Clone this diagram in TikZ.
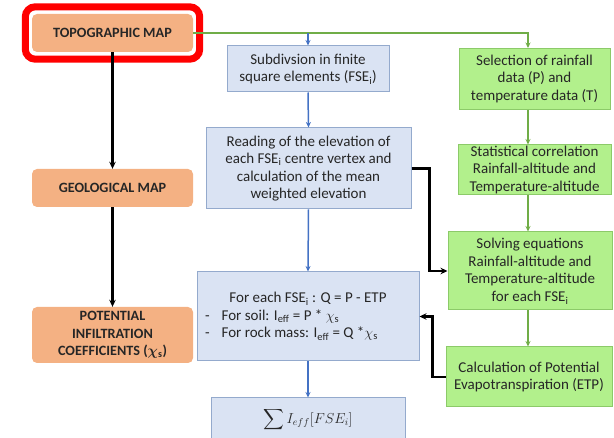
\documentclass[tikz,border=0pt]{standalone}
\usepackage{amsmath}
\usepackage{fontspec}
\setmainfont{Carlito}
\definecolor{orangebox}{RGB}{244,177,131}
\definecolor{bleufond}{RGB}{218,227,243}
\definecolor{bleubord}{RGB}{148,170,205}
\definecolor{bleufleche}{RGB}{68,114,196}
\definecolor{vertfond}{RGB}{178,240,140}
\definecolor{vertbord}{RGB}{140,202,105}
\definecolor{vertligne}{RGB}{112,173,71}
\definecolor{texte}{RGB}{38,38,38}
\usetikzlibrary{arrows.meta,positioning}

\begin{document}
\begin{tikzpicture}[x=1pt,y=-1pt,
    carte/.style={fill=orangebox,rounded corners=5pt,minimum width=161pt,inner sep=0pt,
      align=center,text=texte,font=\bfseries\boldmath\fontsize{14.2}{17.5}\selectfont},
    bloc/.style={draw=bleubord,fill=bleufond,line width=1pt,inner sep=0pt,
      align=center,text=texte,font=\fontsize{15}{17.5}\selectfont},
    boite/.style={draw=vertbord,fill=vertfond,line width=1pt,inner sep=0pt,
      align=center,text=texte,font=\fontsize{15}{17.8}\selectfont},
    fleche/.style={-{Stealth[length=7pt,width=6.5pt]},line width=2.2pt,black},
    flbleu/.style={-{Stealth[length=5.5pt,width=5pt]},line width=1.5pt,bleufleche},
    flvert/.style={-{Stealth[length=5.5pt,width=5pt]},line width=1.5pt,vertligne}]
  \useasboundingbox (0,0) rectangle (614,438);
  \clip (0,0) rectangle (614,438);

  % left column
  \node[carte,minimum height=38pt] (topo) at (112.5,33) {TOPOGRAPHIC MAP};
  \node[carte,minimum height=38pt] (geo) at (112.5,188) {GEOLOGICAL MAP};
  \node[carte,minimum height=56pt] (coef) at (112.5,335)
    {POTENTIAL\\INFILTRATION\\COEFFICIENTS ($\chi_{\mathrm{s}}$)};
  \draw[red,line width=7pt,rounded corners=10pt]
    ([shift={(-6.5,-7)}]topo.north west) rectangle ([shift={(6.5,7)}]topo.south east);

  % middle column
  \node[bloc,minimum width=162pt,minimum height=46pt] (sub) at (308,69)
    {Subdivsion in finite\\square elements (FSE\textsubscript{i})};
  \node[bloc,minimum width=205pt,minimum height=81pt] (read) at (308.5,168.5)
    {Reading of the elevation of\\each FSE\textsubscript{i} centre vertex and\\calculation of the mean\\weighted elevation};
  \node[bloc,minimum width=222pt,minimum height=89pt] (calc) at (308,316.5)
    {For each FSE\textsubscript{i} : Q = P - ETP\\
     \makebox[206pt][l]{-\hspace{12pt}For soil: I\textsubscript{eff} = P * $\chi_{\mathrm{s}}$}\\
     \makebox[206pt][l]{-\hspace{12pt}For rock mass: I\textsubscript{eff} = Q *$\chi_{\mathrm{s}}$}};
  \node[bloc,minimum width=194pt,minimum height=44pt] (sum) at (308,420)
    {\fontsize{14}{16}\selectfont$\displaystyle\sum I_{eff}[FSE_i]$};

  % right column
  \node[boite,minimum width=151pt,minimum height=61pt] (sel) at (534.5,79)
    {Selection of rainfall\\data (P) and\\temperature data (T)};
  \node[boite,minimum width=153pt,minimum height=50pt] (stat) at (534.5,170)
    {Statistical correlation\\Rainfall-altitude and\\Temperature-altitude};
  \node[boite,minimum width=164pt,minimum height=78pt] (solve) at (530,271)
    {Solving equations\\Rainfall-altitude and\\Temperature-altitude\\for each FSE\textsubscript{i}};
  \node[boite,minimum width=166pt,minimum height=60pt] (etp) at (529,377)
    {Calculation of Potential\\Evapotranspiration (ETP)};

  \coordinate (gx) at (528,0);
  \coordinate (coude) at (sub.north |- topo.east);

  % connectors
  \draw[flvert] (topo.east) -| (sel.north -| gx);
  \draw[flbleu] (coude) -- (sub.north);
  \draw[flbleu] (sub.south) -- (read.north);
  \draw[flbleu] (read.south) -- (calc.north);
  \draw[flbleu] (calc.south) -- (sum.north);
  \draw[flvert] (sel.south -| gx) -- (stat.north -| gx);
  \draw[flvert] (stat.south -| gx) -- (solve.north -| gx);
  \draw[flvert] (solve.south -| gx) -- (etp.north -| gx);
  \draw[fleche] (topo.south) -- (geo.north);
  \draw[fleche] (geo.south) -- (coef.north);
  \draw[fleche] (read.east) -- ++(18,0) |- (solve.west);
  \draw[fleche] (etp.west) -- ++(-13,0) |- (calc.east);
\end{tikzpicture}
\end{document}
